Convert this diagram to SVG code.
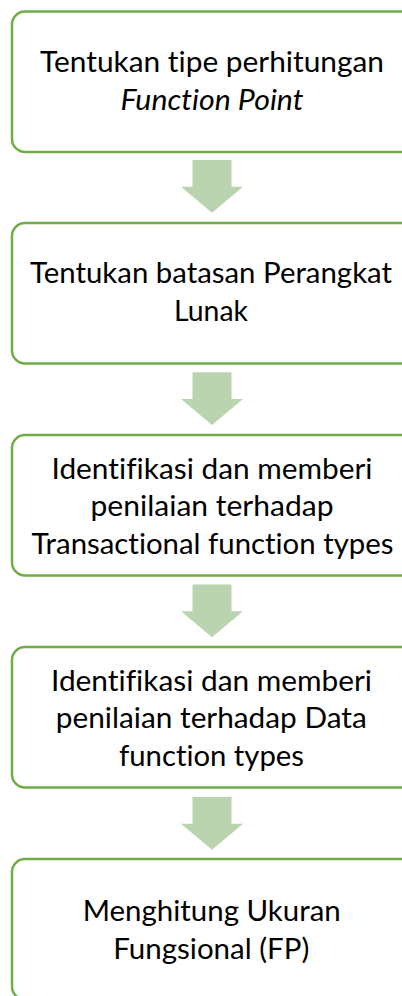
<svg xmlns="http://www.w3.org/2000/svg" width="402" height="996" viewBox="0 0 402 996">
  <style>
    .box { fill: #ffffff; stroke: #70AD47; stroke-width: 2.5; }
    .arrow { fill: #B9D4AE; stroke: none; }
    .lbl { font-family: Lato, "Open Sans", "Liberation Sans", sans-serif; font-size: 29px; fill: #000000; text-anchor: middle; font-variant-ligatures: none; font-feature-settings: "liga" 0, "dlig" 0, "clig" 0; }
    .it { font-style: italic; }
  </style>
  <rect width="402" height="996" fill="#ffffff"/>
  <g id="connectors">
    <path class="arrow" d="M192.5,160 H231.5 V186.7 H243 L212,212.7 L181,186.7 H192.5 Z"/>
    <path class="arrow" d="M192.5,372.3 H231.5 V399 H243 L212,425 L181,399 H192.5 Z"/>
    <path class="arrow" d="M192.5,584.6 H231.5 V611.3 H243 L212,637.3 L181,611.3 H192.5 Z"/>
    <path class="arrow" d="M192.5,797 H231.5 V823.7 H243 L212,849.7 L181,823.7 H192.5 Z"/>
  </g>
  <g id="node1">
    <rect class="box" x="12" y="11.5" width="402" height="140.5" rx="13"/>
    <text class="lbl" x="212" y="71.7" textLength="344" lengthAdjust="spacingAndGlyphs">Tentukan tipe perhitungan</text>
    <text class="lbl it" x="212" y="110" textLength="183" lengthAdjust="spacingAndGlyphs">Function Point</text>
  </g>
  <g id="node2">
    <rect class="box" x="12" y="223" width="402" height="140.5" rx="13"/>
    <text class="lbl" x="211" y="283.3" textLength="362" lengthAdjust="spacingAndGlyphs">Tentukan batasan Perangkat</text>
    <text class="lbl" x="211" y="320.7" textLength="74" lengthAdjust="spacingAndGlyphs">Lunak</text>
  </g>
  <g id="node3">
    <rect class="box" x="12" y="435" width="402" height="140.5" rx="13"/>
    <text class="lbl" x="212" y="478.5" textLength="321" lengthAdjust="spacingAndGlyphs">Identifikasi dan memberi</text>
    <text class="lbl" x="212" y="516" textLength="243" lengthAdjust="spacingAndGlyphs">penilaian terhadap</text>
    <text class="lbl" x="212.5" y="553.5" textLength="362" lengthAdjust="spacingAndGlyphs">Transactional function types</text>
  </g>
  <g id="node4">
    <rect class="box" x="12" y="647" width="402" height="140.5" rx="13"/>
    <text class="lbl" x="211.5" y="690.5" textLength="321" lengthAdjust="spacingAndGlyphs">Identifikasi dan memberi</text>
    <text class="lbl" x="211.3" y="728" textLength="311" lengthAdjust="spacingAndGlyphs">penilaian terhadap Data</text>
    <text class="lbl" x="211.5" y="765.5" textLength="185" lengthAdjust="spacingAndGlyphs">function types</text>
  </g>
  <g id="node5">
    <rect class="box" x="12" y="859" width="402" height="140.5" rx="13"/>
    <text class="lbl" x="211.7" y="921" textLength="258" lengthAdjust="spacingAndGlyphs">Menghitung Ukuran</text>
    <text class="lbl" x="211.3" y="958.5" textLength="196" lengthAdjust="spacingAndGlyphs">Fungsional (FP)</text>
  </g>
</svg>
